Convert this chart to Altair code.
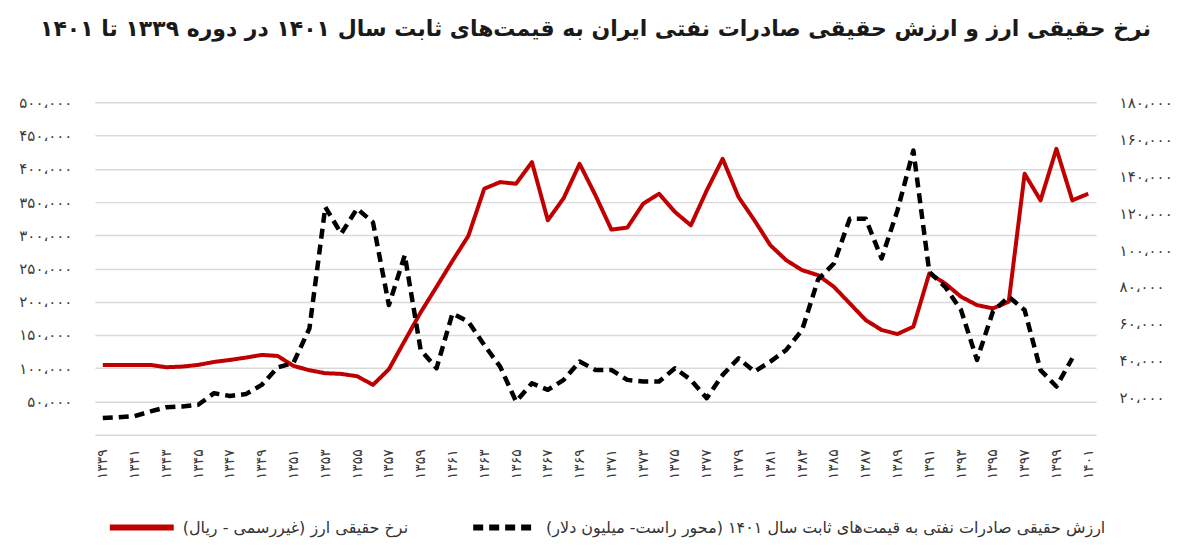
import json
import altair as alt
import pandas as pd

# ---------------- data ----------------
years = list(range(1339, 1402))

# real exchange rate (unofficial, rial) - left axis
real_exchange_rate = [
    105000, 105000, 105000, 105000, 101500, 102500, 105000, 109500, 112500, 116000,
    120000, 118500, 103500, 97000, 92500, 91500, 88000, 75000, 98500, 141500,
    184000, 222500, 261500, 299000, 370000, 380000, 377500, 410000, 322500, 356000,
    407500, 360000, 308500, 311500, 347500, 362500, 335000, 315000, 367500, 415000,
    357500, 322500, 285000, 262500, 247500, 240000, 222500, 197500, 172500, 157500,
    151500, 162500, 242500, 227500, 207500, 195000, 190000, 200000, 392500, 352500,
    430000, 352500, 362500,
]

# real oil export value at 1401 constant prices (million dollars) - right axis, 1339..1400
real_oil_exports = [
    9000, 9500, 10100, 12600, 14900, 15300, 16200, 22500, 21000, 22000,
    27000, 36400, 39000, 57500, 123300, 108900, 122400, 115000, 70200, 97200,
    45900, 36000, 65700, 61200, 48600, 36900, 18000, 27900, 24300, 29700,
    39600, 35100, 35100, 29700, 28800, 28800, 36000, 29700, 19800, 32400,
    41400, 34200, 39600, 45900, 56700, 84000, 92700, 117000, 117000, 95400,
    121500, 153900, 88200, 80100, 67500, 40500, 66600, 74700, 67500, 35000,
    26100, 41400,
]

left_tick_values = [0, 50000, 100000, 150000, 200000, 250000, 300000, 350000, 400000, 450000, 500000]
left_tick_labels = ["", "۵۰،۰۰۰", "۱۰۰،۰۰۰", "۱۵۰،۰۰۰", "۲۰۰،۰۰۰", "۲۵۰،۰۰۰",
                    "۳۰۰،۰۰۰", "۳۵۰،۰۰۰", "۴۰۰،۰۰۰", "۴۵۰،۰۰۰", "۵۰۰،۰۰۰"]
right_tick_values = [0, 20000, 40000, 60000, 80000, 100000, 120000, 140000, 160000, 180000]
right_tick_labels = ["", "۲۰،۰۰۰", "۴۰،۰۰۰", "۶۰،۰۰۰", "۸۰،۰۰۰", "۱۰۰،۰۰۰",
                     "۱۲۰،۰۰۰", "۱۴۰،۰۰۰", "۱۶۰،۰۰۰", "۱۸۰،۰۰۰"]

RLM = "\u200f"
title_text = RLM + "نرخ حقیقی ارز و ارزش حقیقی صادرات نفتی ایران به قیمت‌های ثابت سال ۱۴۰۱ در دوره ۱۳۳۹ تا ۱۴۰۱" + RLM
series_fx = RLM + "نرخ حقیقی ارز (غیررسمی - ریال)" + RLM
series_oil = RLM + "ارزش حقیقی صادرات نفتی به قیمت‌های ثابت سال ۱۴۰۱ (محور راست- میلیون دلار)" + RLM

fa = str.maketrans("0123456789", "۰۱۲۳۴۵۶۷۸۹")
year_labels = [str(y).translate(fa) for y in years]
year_tick_labels = year_labels[::2]

rows = []
for yl, v in zip(year_labels, real_exchange_rate):
    rows.append({"year": yl, "series": series_fx, "value": v})
for yl, v in zip(year_labels, real_oil_exports):
    rows.append({"year": yl, "series": series_oil, "value": v})
df = pd.DataFrame(rows)

FONT = "DejaVu Sans"
RED = "#C00000"
LABEL_COLOR = "#3a3a3a"

legend = alt.Legend(
    title=None, orient="none", legendX=12, legendY=391, direction="horizontal",
    labelFont=FONT, labelFontSize=16, labelColor="#333333", labelLimit=900,
    symbolType="stroke", symbolSize=4096, symbolStrokeWidth=6, columnPadding=53,
    labelOffset=6, padding=0,
)
color = alt.Color("series:N", scale=alt.Scale(domain=[series_fx, series_oil], range=[RED, "#000000"]), legend=legend)
dash = alt.StrokeDash("series:N", scale=alt.Scale(domain=[series_fx, series_oil], range=[[1, 0], [10, 6]]), legend=legend)

x = alt.X(
    "year:O",
    scale=alt.Scale(type="point", padding=0.5, domain=year_labels),
    axis=alt.Axis(values=year_tick_labels, labelAngle=270, labelPadding=14, ticks=False,
                  domain=False, title=None, labelFont=FONT, labelFontSize=14, labelColor=LABEL_COLOR),
)

left_expr = json.dumps(left_tick_labels, ensure_ascii=False) + "[round(datum.value / 50000)]"
right_expr = json.dumps(right_tick_labels, ensure_ascii=False) + "[round(datum.value / 20000)]"

base = alt.Chart(df)

fx_line = base.transform_filter(alt.datum.series == series_fx).mark_line(strokeWidth=4, strokeJoin="round").encode(
    x=x,
    y=alt.Y("value:Q", scale=alt.Scale(domain=[0, 500000], nice=False),
            axis=alt.Axis(values=left_tick_values, labelExpr=left_expr, orient="left", title=None,
                          ticks=False, domain=False, labelPadding=23, minExtent=85, maxExtent=85,
                          grid=True, gridColor="#d9d9d9", gridWidth=1.5,
                          labelFont=FONT, labelFontSize=15, labelColor=LABEL_COLOR)),
    color=color,
    strokeDash=dash,
)

oil_line = base.transform_filter(alt.datum.series == series_oil).mark_line(strokeWidth=4.5, strokeJoin="round").encode(
    x=x,
    y=alt.Y("value:Q", scale=alt.Scale(domain=[0, 180000], nice=False),
            axis=alt.Axis(values=right_tick_values, labelExpr=right_expr, orient="right", title=None,
                          ticks=False, domain=False, labelPadding=23, minExtent=85, maxExtent=85,
                          grid=False, labelFont=FONT, labelFontSize=15, labelColor=LABEL_COLOR)),
    color=color,
    strokeDash=dash,
)

chart = alt.layer(fx_line, oil_line).resolve_scale(y="independent").properties(
    width=1003,
    height=333,
    padding={"left": 2, "top": 10, "right": 5, "bottom": 5},
    title=alt.TitleParams(text=title_text, font=FONT, fontSize=22, fontWeight="bold",
                          color="#1a1a1a", offset=54, anchor="middle"),
    background="white",
).configure_view(stroke="transparent")

chart.save("out.html", embed_options={"renderer": "svg", "actions": False})
